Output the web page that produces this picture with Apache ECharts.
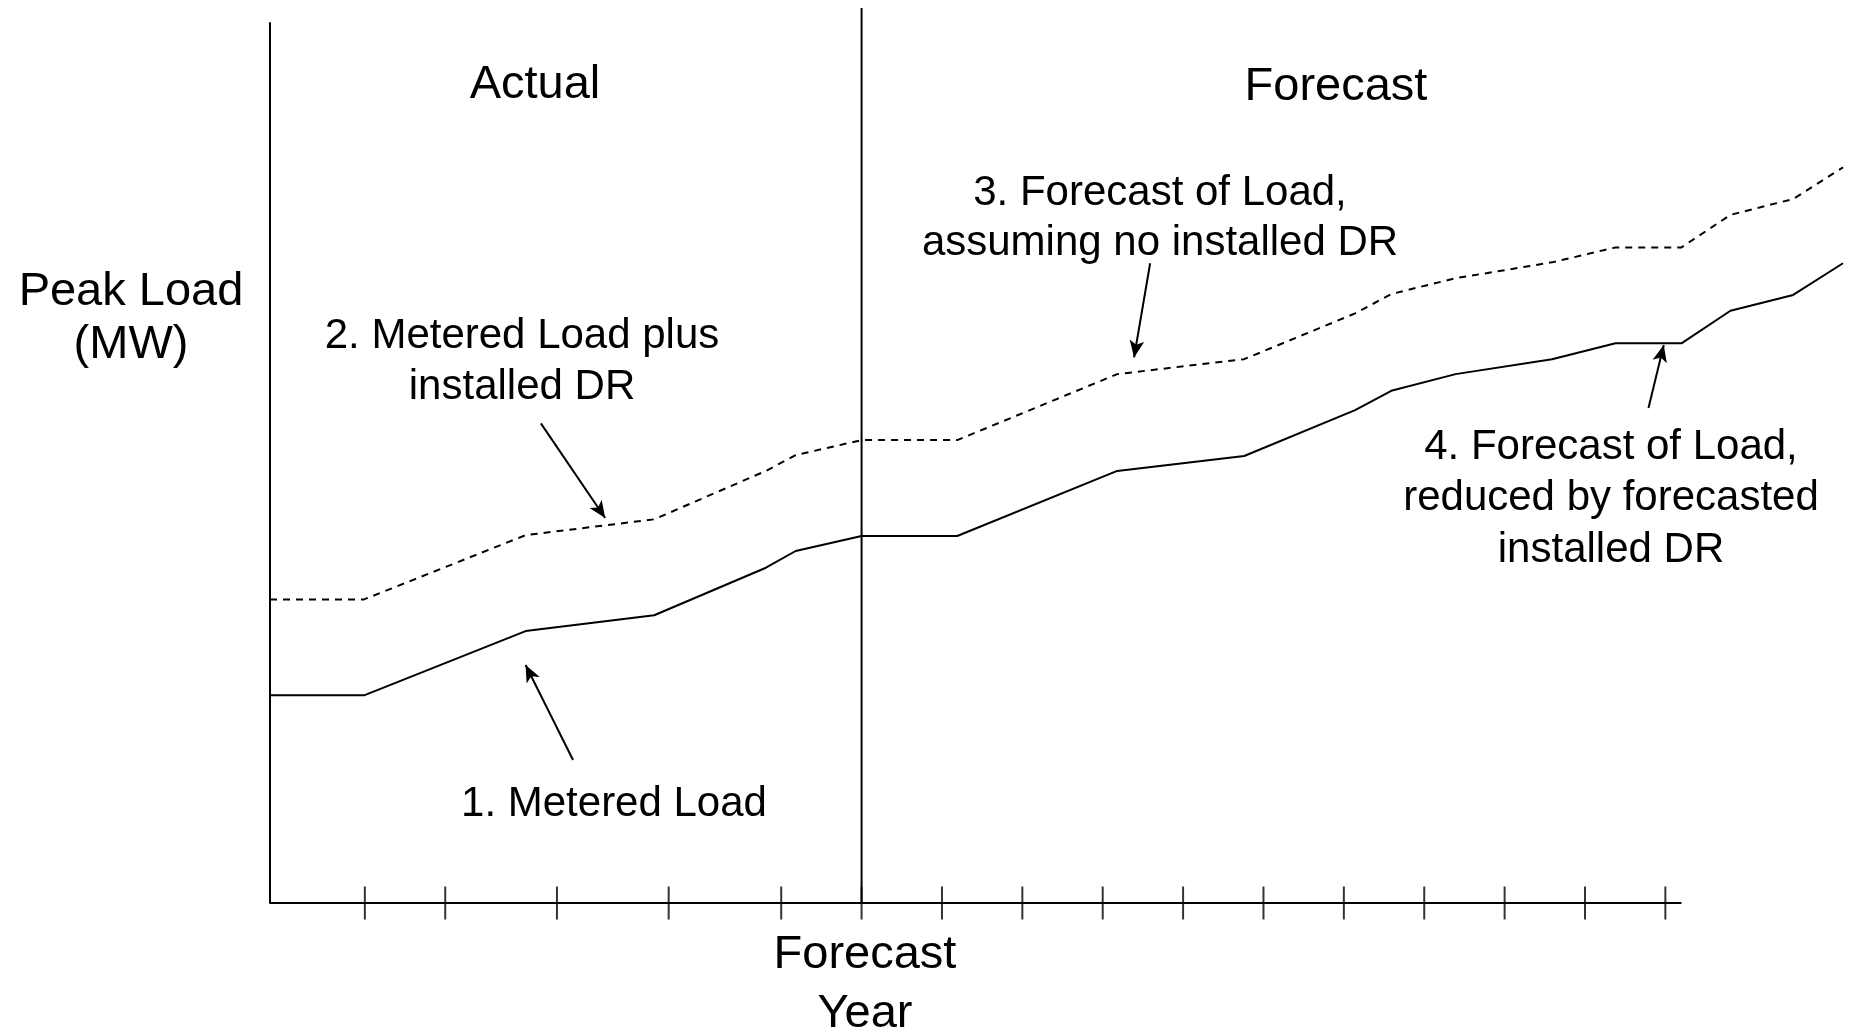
<!DOCTYPE html>
<html>
<head>
<meta charset="utf-8">
<script src="https://cdn.jsdelivr.net/npm/echarts@6/dist/echarts.min.js"></script>
<style>
html,body{margin:0;padding:0;background:#fff;}
#chart{width:1855px;height:1030px;}
</style>
</head>
<body>
<div id="chart"></div>
<script>
// X in "years relative to the forecast year" (0 = forecast year); Y in arbitrary MW units
const years = [-7.36, -6.19, -4.18, -2.58, -1.19, -0.82, 0, 1.19, 3.18, 4.76, 6.14, 6.59, 7.39, 8.59, 9.38, 10.2, 10.81, 11.59, 12.21];
const meteredLoad = [23.6, 23.6, 30.9, 32.7, 38.1, 40.0, 41.7, 41.7, 49.1, 50.8, 56.0, 58.2, 60.1, 61.8, 63.6, 63.6, 67.3, 69.1, 72.7];
const loadPlusDR  = [34.5, 34.5, 41.8, 43.6, 49.1, 50.9, 52.6, 52.6, 60.1, 61.8, 67.0, 69.2, 71.0, 72.8, 74.5, 74.5, 78.2, 80.0, 83.6];
const tickYears = [-6.18, -5.18, -3.79, -2.40, -1.00, 0, 1, 2, 3, 4, 5, 6, 7, 8, 9, 10];
const axisStart = -7.36;
const axisEnd = 10.2;
const yMax = 100;
const dividerTop = 101.7;
// annotation arrows: [tailX, tailY, tipX, tipY]
const arrows = [
  [-3.59, 16.25, -4.18, 27.05],
  [-3.99, 54.5, -3.19, 43.75],
  [3.59, 72.7, 3.39, 62.0],
  [9.79, 56.25, 9.98, 63.4]
];

const FONT = 'Liberation Sans';
function txt(x, y, s, size) {
  return {type:'text', x:x, y:y + 4, silent:true,
    style:{text:s, fontSize:size, fontFamily:FONT, fill:'#000', align:'center', verticalAlign:'middle'}};
}

const chart = echarts.init(document.getElementById('chart'));
chart.setOption({
  animation:false,
  backgroundColor:'#ffffff',
  grid:{left:270, right:12, top:23, bottom:127},
  xAxis:{type:'value', min:axisStart, max:12.21, show:false},
  yAxis:{type:'value', min:0, max:yMax,
    axisLine:{show:true, onZero:false, lineStyle:{color:'#000', width:2}},
    axisTick:{show:false}, axisLabel:{show:false}, splitLine:{show:false}},
  series:[
    {type:'line', name:'Metered Load', data:years.map((x,i)=>[x, meteredLoad[i]]),
     showSymbol:false, clip:false, lineStyle:{color:'#000', width:2}},
    {type:'line', name:'Metered Load plus installed DR', data:years.map((x,i)=>[x, loadPlusDR[i]]),
     showSymbol:false, clip:false, lineStyle:{color:'#000', width:2, type:[7,6]}},
    {type:'line', name:'divider', data:[[0,0],[0,dividerTop]], showSymbol:false, clip:false,
     lineStyle:{color:'#000', width:2}},
    {type:'line', name:'xaxis', data:[[axisStart,0],[axisEnd,0]], showSymbol:false, clip:false,
     lineStyle:{color:'#000', width:2},
     markLine:{silent:true, symbol:['none','arrow'], symbolSize:[11,17],
       label:{show:false}, lineStyle:{color:'#000', width:2, type:'solid'},
       data:arrows.map(a=>[{coord:[a[0],a[1]]},{coord:[a[2],a[3]]}])}},
    {type:'scatter', name:'ticks', data:tickYears.map(t=>[t,0]), symbol:'rect',
     symbolSize:[2,33], clip:false, itemStyle:{color:'#000'}, silent:true}
  ],
  graphic:[
    txt(131, 288, 'Peak Load', 47),
    txt(131, 341, '(MW)', 47),
    txt(535, 81, 'Actual', 47),
    txt(1336, 83, 'Forecast', 47),
    txt(865, 951, 'Forecast', 47),
    txt(865, 1010, 'Year', 47),
    txt(522, 332, '2. Metered Load plus', 42),
    txt(522, 383, 'installed DR', 42),
    txt(1160, 189, '3. Forecast of Load,', 42),
    txt(1160, 239, 'assuming no installed DR', 42),
    txt(614, 800, '1. Metered Load', 42),
    txt(1611, 443, '4. Forecast of Load,', 42),
    txt(1611, 494, 'reduced by forecasted', 42),
    txt(1611, 546, 'installed DR', 42)
  ]
});
</script>
</body>
</html>
